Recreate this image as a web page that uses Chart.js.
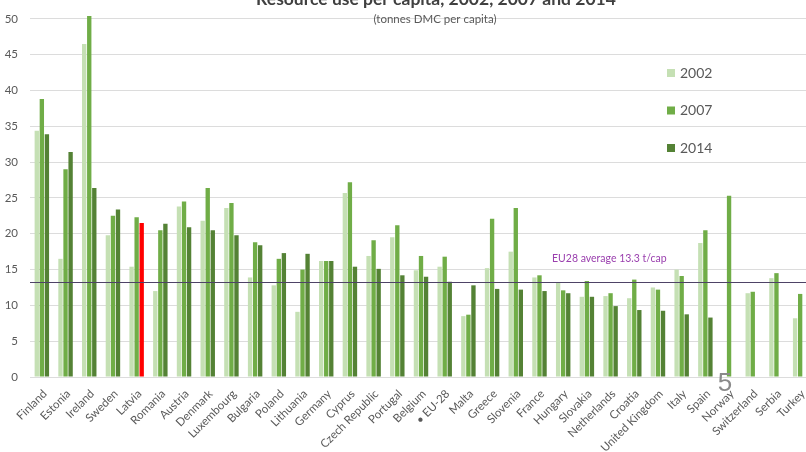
<!DOCTYPE html>
<html>
<head>
<meta charset="utf-8">
<script src="https://cdn.jsdelivr.net/npm/chart.js@4"></script>
<style>
  html, body { margin: 0; padding: 0; background: #fff; overflow: hidden; }
  #wrap { position: absolute; left: 0; top: 0; width: 820px; height: 452px; }
</style>
</head>
<body>
<div id="wrap"><canvas id="dmc-chart" width="820" height="452"></canvas></div>
<script>
const categories = ['Finland', 'Estonia', 'Ireland', 'Sweden', 'Latvia', 'Romania', 'Austria', 'Denmark',
  'Luxembourg', 'Bulgaria', 'Poland', 'Lithuania', 'Germany', 'Cyprus', 'Czech Republic', 'Portugal',
  'Belgium', '• EU-28', 'Malta', 'Greece', 'Slovenia', 'France', 'Hungary', 'Slovakia', 'Netherlands',
  'Croatia', 'United Kingdom', 'Italy', 'Spain', 'Norway', 'Switzerland', 'Serbia', 'Turkey'];

const values2002 = [34.4, 16.5, 46.5, 19.8, 15.4, 12.0, 23.8, 21.8, 23.6, 13.9, 12.8, 9.1, 16.2, 25.7, 16.9, 19.5,
  14.9, 15.4, 8.5, 15.2, 17.5, 13.9, 13.2, 11.2, 11.3, 11.0, 12.5, 15.0, 18.7, null, 11.7, 13.8, 8.2];
const values2007 = [38.8, 29.0, 50.4, 22.5, 22.3, 20.5, 24.5, 26.4, 24.3, 18.8, 16.5, 15.0, 16.2, 27.2, 19.1, 21.2,
  16.9, 16.8, 8.7, 22.1, 23.6, 14.2, 12.1, 13.4, 11.7, 13.6, 12.2, 14.1, 20.5, 25.3, 11.9, 14.5, 11.6];
const values2014 = [33.9, 31.4, 26.4, 23.4, 21.5, 21.4, 20.9, 20.5, 19.8, 18.4, 17.3, 17.2, 16.2, 15.4, 15.1, 14.2,
  14.0, 13.3, 12.8, 12.3, 12.2, 12.0, 11.7, 11.2, 9.9, 9.35, 9.25, 8.75, 8.3, null, null, null, null];

const years = ['2002', '2007', '2014'];
const yTicks = [0, 5, 10, 15, 20, 25, 30, 35, 40, 45, 50];
const EU_AVERAGE = 13.3;
const highlight = 'Latvia';

const colors = ['#c5e0b4', '#70ad47', '#548235'];
const gray = '#595959';
const font = 'Lato, "Open Sans", sans-serif';

// red bar for the highlighted country in the latest year
const colors2014 = categories.map(c => c === highlight ? '#ff0000' : colors[2]);

const overlay = {
  id: 'overlay',
  afterDatasetsDraw(chart) {
    const { ctx, chartArea, scales } = chart;
    const y = Math.round(scales.y.getPixelForValue(EU_AVERAGE)) + 0.5;
    ctx.save();
    ctx.strokeStyle = '#4e4366';
    ctx.lineWidth = 1;
    ctx.beginPath();
    ctx.moveTo(chartArea.left, y);
    ctx.lineTo(chartArea.right, y);
    ctx.stroke();

    ctx.fillStyle = '#9a3fae';
    ctx.font = '10.5px ' + font;
    ctx.textBaseline = 'middle';
    ctx.fillText('EU28 average ' + EU_AVERAGE + ' t/cap', 552, y - 24);
    ctx.restore();
  },
  afterDraw(chart) {
    const { ctx } = chart;
    ctx.save();
    // title, partly off the top edge
    ctx.textAlign = 'center';
    ctx.fillStyle = '#404040';
    ctx.font = 'bold 17.5px ' + font;
    ctx.textBaseline = 'alphabetic';
    ctx.fillText('Resource use per capita, 2002, 2007 and 2014', 436, 5);
    ctx.fillStyle = gray;
    ctx.font = '11.5px ' + font;
    ctx.textBaseline = 'middle';
    ctx.fillText('(tonnes DMC per capita)', 435, 19);

    // legend
    ctx.textAlign = 'left';
    ctx.font = '14px ' + font;
    chart.data.datasets.forEach((ds, i) => {
      const ly = 73 + i * 37.5;
      ctx.fillStyle = colors[i];
      ctx.fillRect(667, ly - 4, 8, 8);
      ctx.fillStyle = gray;
      ctx.fillText(ds.label, 680, ly);
    });

    // page number
    ctx.fillStyle = '#8a8a8a';
    ctx.font = '26px "Liberation Sans", sans-serif';
    ctx.textAlign = 'center';
    ctx.textBaseline = 'alphabetic';
    ctx.fillText('5', 725, 391);
    ctx.restore();
  }
};

new Chart(document.getElementById('dmc-chart').getContext('2d'), {
  type: 'bar',
  data: {
    labels: categories,
    datasets: [
      { label: years[0], data: values2002, backgroundColor: colors[0], clip: false },
      { label: years[1], data: values2007, backgroundColor: colors[1], clip: false },
      { label: years[2], data: values2014, backgroundColor: colors2014, clip: false }
    ]
  },
  options: {
    responsive: false,
    animation: false,
    layout: { padding: { top: 15, right: 8, left: 0, bottom: 0 } },
    datasets: { bar: { categoryPercentage: 0.64, barPercentage: 0.86 } },
    plugins: {
      legend: { display: false },
      tooltip: { enabled: false }
    },
    scales: {
      x: {
        grid: { display: false },
        border: { display: false },
        ticks: {
          autoSkip: false,
          minRotation: 45,
          maxRotation: 45,
          padding: 2,
          labelOffset: 3,
          color: gray,
          font: { family: font, size: 11.5 }
        },
        afterFit(scale) { scale.height = 75; }
      },
      y: {
        min: 0,
        max: 50,
        afterBuildTicks(scale) { scale.ticks = yTicks.map(v => ({ value: v })); },
        grid: { color: '#dcdcdc', drawTicks: false },
        border: { display: false },
        ticks: {
          padding: 12,
          color: gray,
          font: { family: font, size: 11.5 }
        },
        afterFit(scale) { scale.width = 30; }
      }
    }
  },
  plugins: [overlay]
});
</script>
</body>
</html>
